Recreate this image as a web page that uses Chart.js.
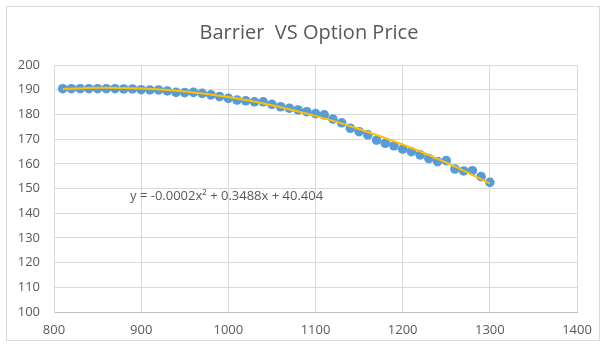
<!DOCTYPE html>
<html>
<head>
<meta charset="utf-8">
<script src="https://cdn.jsdelivr.net/npm/chart.js@4"></script>
<style>
  html, body { margin: 0; padding: 0; background: #fff; }
  canvas { display: block; }
</style>
</head>
<body>
<canvas id="chart" width="606" height="347"></canvas>
<script>
// Barrier levels and option prices
const barriers = [810, 820, 830, 840, 850, 860, 870, 880, 890, 900,
                  910, 920, 930, 940, 950, 960, 970, 980, 990, 1000,
                  1010, 1020, 1030, 1040, 1050, 1060, 1070, 1080, 1090, 1100,
                  1110, 1120, 1130, 1140, 1150, 1160, 1170, 1180, 1190, 1200,
                  1210, 1220, 1230, 1240, 1250, 1260, 1270, 1280, 1290, 1300];
const prices = [190.4, 190.4, 190.4, 190.4, 190.4, 190.4, 190.4, 190.3, 190.3, 190.0,
                189.9, 189.9, 189.5, 188.9, 188.8, 188.9, 188.5, 187.9, 187.2, 186.5,
                185.8, 185.5, 185.1, 185.1, 184.1, 183.1, 182.5, 181.8, 181.1, 180.3,
                179.8, 178.1, 176.6, 174.4, 173.0, 171.7, 169.6, 168.3, 167.3, 165.9,
                164.9, 163.6, 162.1, 160.9, 161.3, 157.9, 157.1, 157.2, 154.8, 152.5];

// polynomial trendline as drawn
const trendX = [810, 850, 900, 950, 1000, 1050, 1100, 1150, 1200, 1250, 1300];
const trendY = [190.3, 190.8, 190.5, 189.3, 187.0, 183.7, 179.4, 174.1, 167.8, 160.5, 152.1];

const xTicks = [800, 900, 1000, 1100, 1200, 1300, 1400];
const yTicks = [100, 110, 120, 130, 140, 150, 160, 170, 180, 190, 200];

const chartTitle = 'Barrier  VS Option Price';
const equation = 'y = -0.0002x² + 0.3488x + 40.404';

const textColor = '#595959';
const fontFamily = '"Open Sans", "Liberation Sans", sans-serif';

// frame round the chart, title and equation label
const extras = {
    id: 'extras',
    beforeDraw(chart) {
        const ctx = chart.ctx;
        ctx.save();
        ctx.fillStyle = '#fff';
        ctx.fillRect(0, 0, chart.width, chart.height);
        ctx.strokeStyle = '#d9d9d9';
        ctx.lineWidth = 1;
        ctx.strokeRect(6.5, 6.5, 593, 334);
        ctx.font = '20px ' + fontFamily;
        ctx.fillStyle = textColor;
        ctx.textAlign = 'center';
        ctx.textBaseline = 'middle';
        ctx.fillText(chartTitle, 309, 33);
        ctx.restore();
    },
    afterDatasetsDraw(chart) {
        const ctx = chart.ctx;
        ctx.save();
        ctx.font = '13px ' + fontFamily;
        ctx.fillStyle = textColor;
        ctx.textBaseline = 'middle';
        ctx.textAlign = 'left';
        ctx.fillText(equation, 130, 196);
        ctx.restore();
    }
};

var ctx = document.getElementById('chart').getContext('2d');
var myChart = new Chart(ctx, {
    type: 'scatter',
    data: {
        datasets: [{
            label: 'Trend',
            data: trendX.map((x, i) => ({x: x, y: trendY[i]})),
            showLine: true,
            borderColor: '#ffc000',
            borderWidth: 2,
            pointRadius: 0,
            tension: 0.4,
            order: 1
        }, {
            label: 'Option Price',
            data: barriers.map((x, i) => ({x: x, y: prices[i]})),
            backgroundColor: '#5b9bd5',
            borderWidth: 0,
            pointRadius: 4.8,
            order: 2
        }]
    },
    options: {
        responsive: false,
        animation: false,
        layout: {
            padding: { left: 0, right: 29, top: 65, bottom: 0 }
        },
        plugins: {
            legend: { display: false },
            tooltip: { enabled: false },
            title: { display: false }
        },
        scales: {
            x: {
                type: 'linear',
                min: 800,
                max: 1400,
                afterBuildTicks: scale => { scale.ticks = xTicks.map(v => ({value: v})); },
                afterFit: scale => { scale.height = 35; },
                grid: { color: '#d9d9d9', drawTicks: false },
                border: { color: '#bfbfbf' },
                ticks: {
                    color: textColor,
                    padding: 10,
                    maxRotation: 0,
                    autoSkip: false,
                    callback: v => String(v),
                    font: { family: fontFamily, size: 13 }
                }
            },
            y: {
                min: 100,
                max: 200,
                afterBuildTicks: scale => { scale.ticks = yTicks.map(v => ({value: v})); },
                afterFit: scale => { scale.width = 54; },
                grid: { color: '#d9d9d9', drawTicks: false },
                border: { color: '#d9d9d9' },
                ticks: {
                    color: textColor,
                    padding: 14,
                    autoSkip: false,
                    callback: v => String(v),
                    font: { family: fontFamily, size: 13 }
                }
            }
        }
    },
    plugins: [extras]
});
</script>
</body>
</html>
